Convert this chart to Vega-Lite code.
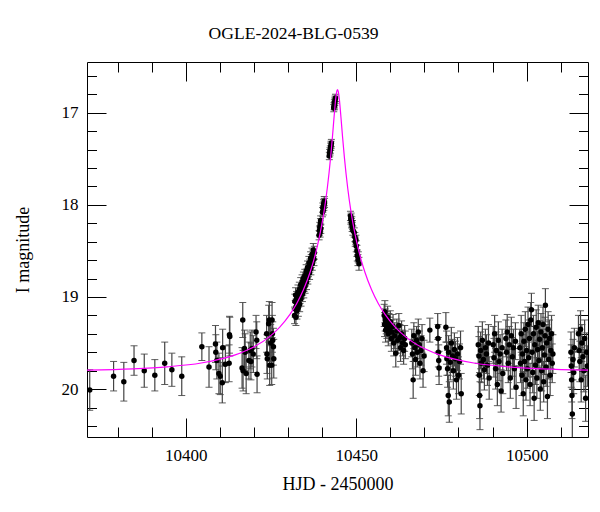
{
  "$schema": "https://vega.github.io/schema/vega-lite/v6.json",
  "width": 501,
  "height": 375,
  "autosize": {"type": "none"},
  "padding": {"left": 87, "top": 62, "right": 12, "bottom": 75},
  "background": "white",
  "config": {
    "view": {"stroke": "black", "strokeWidth": 1},
    "font": "Liberation Serif",
    "axis": {
      "domain": false,
      "grid": false,
      "labelFont": "Liberation Serif",
      "titleFont": "Liberation Serif",
      "labelFontSize": 17,
      "titleFontSize": 18,
      "labelColor": "black",
      "titleColor": "black",
      "tickColor": "black",
      "titleFontWeight": "normal"
    }
  },
  "title": {
    "text": "OGLE-2024-BLG-0539",
    "font": "Liberation Serif",
    "fontSize": 17.6,
    "fontWeight": "normal",
    "color": "black",
    "anchor": "middle",
    "frame": "group",
    "baseline": "alphabetic",
    "dx": -44,
    "offset": 4.5
  },
  "datasets": {
    "obs": [
      {"t": 10371.8, "m": 20.01, "e": 0.22},
      {"t": 10378.8, "m": 19.86, "e": 0.16},
      {"t": 10381.8, "m": 19.92, "e": 0.21},
      {"t": 10384.8, "m": 19.69, "e": 0.16},
      {"t": 10387.8, "m": 19.80, "e": 0.18},
      {"t": 10390.9, "m": 19.85, "e": 0.17},
      {"t": 10393.8, "m": 19.72, "e": 0.23},
      {"t": 10395.9, "m": 19.79, "e": 0.18},
      {"t": 10398.8, "m": 19.86, "e": 0.21},
      {"t": 10404.7, "m": 19.54, "e": 0.15},
      {"t": 10406.8, "m": 19.76, "e": 0.22},
      {"t": 10408.7, "m": 19.51, "e": 0.20},
      {"t": 10408.8, "m": 19.60, "e": 0.19},
      {"t": 10409.1, "m": 19.69, "e": 0.20},
      {"t": 10409.7, "m": 19.83, "e": 0.22},
      {"t": 10410.1, "m": 19.86, "e": 0.20},
      {"t": 10410.7, "m": 19.93, "e": 0.22},
      {"t": 10410.8, "m": 19.55, "e": 0.20},
      {"t": 10411.6, "m": 19.73, "e": 0.20},
      {"t": 10412.7, "m": 19.72, "e": 0.20},
      {"t": 10412.8, "m": 19.41, "e": 0.20},
      {"t": 10412.9, "m": 19.43, "e": 0.21},
      {"t": 10416.5, "m": 19.77, "e": 0.22},
      {"t": 10416.7, "m": 19.25, "e": 0.19},
      {"t": 10416.8, "m": 19.80, "e": 0.22},
      {"t": 10417.2, "m": 19.56, "e": 0.20},
      {"t": 10417.4, "m": 19.60, "e": 0.20},
      {"t": 10417.7, "m": 19.83, "e": 0.22},
      {"t": 10418.5, "m": 19.69, "e": 0.20},
      {"t": 10418.9, "m": 19.58, "e": 0.20},
      {"t": 10419.1, "m": 19.70, "e": 0.20},
      {"t": 10419.4, "m": 19.56, "e": 0.20},
      {"t": 10419.8, "m": 19.62, "e": 0.20},
      {"t": 10420.6, "m": 19.38, "e": 0.18},
      {"t": 10420.8, "m": 19.47, "e": 0.20},
      {"t": 10420.9, "m": 19.84, "e": 0.20},
      {"t": 10423.7, "m": 19.40, "e": 0.20},
      {"t": 10423.8, "m": 19.62, "e": 0.21},
      {"t": 10423.9, "m": 19.67, "e": 0.22},
      {"t": 10424.3, "m": 19.29, "e": 0.20},
      {"t": 10424.5, "m": 19.25, "e": 0.20},
      {"t": 10424.6, "m": 19.74, "e": 0.22},
      {"t": 10424.9, "m": 19.50, "e": 0.20},
      {"t": 10425.2, "m": 19.74, "e": 0.21},
      {"t": 10425.3, "m": 19.25, "e": 0.19},
      {"t": 10425.4, "m": 19.40, "e": 0.20},
      {"t": 10425.5, "m": 19.47, "e": 0.20},
      {"t": 10425.7, "m": 19.54, "e": 0.20},
      {"t": 10425.8, "m": 19.67, "e": 0.21},
      {"t": 10431.9, "m": 19.20, "e": 0.09},
      {"t": 10432.0, "m": 19.05, "e": 0.08},
      {"t": 10432.1, "m": 19.13, "e": 0.09},
      {"t": 10432.2, "m": 18.98, "e": 0.08},
      {"t": 10432.3, "m": 19.22, "e": 0.09},
      {"t": 10432.4, "m": 19.10, "e": 0.08},
      {"t": 10432.5, "m": 19.02, "e": 0.08},
      {"t": 10432.6, "m": 19.15, "e": 0.09},
      {"t": 10432.8, "m": 19.07, "e": 0.08},
      {"t": 10432.9, "m": 18.95, "e": 0.08},
      {"t": 10433.0, "m": 19.12, "e": 0.09},
      {"t": 10433.1, "m": 19.03, "e": 0.08},
      {"t": 10433.3, "m": 18.92, "e": 0.08},
      {"t": 10433.4, "m": 19.08, "e": 0.08},
      {"t": 10433.5, "m": 18.99, "e": 0.08},
      {"t": 10433.7, "m": 18.87, "e": 0.08},
      {"t": 10433.8, "m": 19.02, "e": 0.08},
      {"t": 10433.9, "m": 18.94, "e": 0.08},
      {"t": 10434.1, "m": 18.84, "e": 0.08},
      {"t": 10434.2, "m": 18.97, "e": 0.08},
      {"t": 10434.3, "m": 18.90, "e": 0.08},
      {"t": 10434.5, "m": 18.80, "e": 0.07},
      {"t": 10434.6, "m": 18.93, "e": 0.08},
      {"t": 10434.7, "m": 18.86, "e": 0.08},
      {"t": 10434.9, "m": 18.77, "e": 0.07},
      {"t": 10435.0, "m": 18.88, "e": 0.08},
      {"t": 10435.1, "m": 18.81, "e": 0.07},
      {"t": 10435.3, "m": 18.72, "e": 0.07},
      {"t": 10435.4, "m": 18.84, "e": 0.08},
      {"t": 10435.6, "m": 18.76, "e": 0.07},
      {"t": 10435.7, "m": 18.68, "e": 0.07},
      {"t": 10435.8, "m": 18.79, "e": 0.07},
      {"t": 10436.0, "m": 18.71, "e": 0.07},
      {"t": 10436.1, "m": 18.63, "e": 0.07},
      {"t": 10436.3, "m": 18.74, "e": 0.07},
      {"t": 10436.4, "m": 18.66, "e": 0.07},
      {"t": 10436.6, "m": 18.58, "e": 0.07},
      {"t": 10436.7, "m": 18.69, "e": 0.07},
      {"t": 10436.8, "m": 18.61, "e": 0.07},
      {"t": 10437.0, "m": 18.54, "e": 0.07},
      {"t": 10437.1, "m": 18.64, "e": 0.07},
      {"t": 10437.3, "m": 18.56, "e": 0.07},
      {"t": 10437.4, "m": 18.49, "e": 0.07},
      {"t": 10437.6, "m": 18.59, "e": 0.07},
      {"t": 10437.7, "m": 18.52, "e": 0.07},
      {"t": 10439.1, "m": 18.33, "e": 0.05},
      {"t": 10439.2, "m": 18.28, "e": 0.05},
      {"t": 10439.3, "m": 18.24, "e": 0.05},
      {"t": 10439.4, "m": 18.30, "e": 0.05},
      {"t": 10439.5, "m": 18.20, "e": 0.05},
      {"t": 10439.6, "m": 18.26, "e": 0.05},
      {"t": 10439.55, "m": 18.17, "e": 0.05},
      {"t": 10440.1, "m": 18.08, "e": 0.05},
      {"t": 10440.2, "m": 18.03, "e": 0.05},
      {"t": 10440.3, "m": 18.06, "e": 0.05},
      {"t": 10440.4, "m": 17.99, "e": 0.05},
      {"t": 10440.5, "m": 18.01, "e": 0.05},
      {"t": 10440.6, "m": 17.96, "e": 0.05},
      {"t": 10440.7, "m": 17.98, "e": 0.05},
      {"t": 10442.1, "m": 17.47, "e": 0.04},
      {"t": 10442.2, "m": 17.44, "e": 0.04},
      {"t": 10442.3, "m": 17.42, "e": 0.04},
      {"t": 10442.4, "m": 17.40, "e": 0.04},
      {"t": 10442.5, "m": 17.37, "e": 0.04},
      {"t": 10442.6, "m": 17.35, "e": 0.04},
      {"t": 10442.7, "m": 17.33, "e": 0.04},
      {"t": 10443.4, "m": 16.95, "e": 0.04},
      {"t": 10443.5, "m": 16.93, "e": 0.04},
      {"t": 10443.6, "m": 16.90, "e": 0.04},
      {"t": 10443.65, "m": 16.92, "e": 0.04},
      {"t": 10443.7, "m": 16.88, "e": 0.04},
      {"t": 10443.8, "m": 16.86, "e": 0.04},
      {"t": 10443.9, "m": 16.84, "e": 0.04},
      {"t": 10448.3, "m": 18.12, "e": 0.05},
      {"t": 10448.4, "m": 18.16, "e": 0.05},
      {"t": 10448.5, "m": 18.14, "e": 0.05},
      {"t": 10448.6, "m": 18.20, "e": 0.05},
      {"t": 10448.7, "m": 18.18, "e": 0.05},
      {"t": 10448.8, "m": 18.24, "e": 0.05},
      {"t": 10448.9, "m": 18.22, "e": 0.05},
      {"t": 10449.0, "m": 18.28, "e": 0.05},
      {"t": 10449.4, "m": 18.30, "e": 0.05},
      {"t": 10449.6, "m": 18.35, "e": 0.05},
      {"t": 10449.7, "m": 18.40, "e": 0.05},
      {"t": 10449.9, "m": 18.38, "e": 0.05},
      {"t": 10450.0, "m": 18.45, "e": 0.06},
      {"t": 10450.2, "m": 18.50, "e": 0.06},
      {"t": 10450.3, "m": 18.55, "e": 0.06},
      {"t": 10450.5, "m": 18.60, "e": 0.06},
      {"t": 10450.6, "m": 18.57, "e": 0.06},
      {"t": 10450.8, "m": 18.64, "e": 0.07},
      {"t": 10458.2, "m": 19.20, "e": 0.12},
      {"t": 10458.3, "m": 19.30, "e": 0.13},
      {"t": 10458.4, "m": 19.16, "e": 0.12},
      {"t": 10458.5, "m": 19.25, "e": 0.12},
      {"t": 10458.6, "m": 19.36, "e": 0.13},
      {"t": 10458.8, "m": 19.28, "e": 0.12},
      {"t": 10459.0, "m": 19.33, "e": 0.12},
      {"t": 10459.2, "m": 19.22, "e": 0.12},
      {"t": 10459.4, "m": 19.40, "e": 0.13},
      {"t": 10459.6, "m": 19.30, "e": 0.12},
      {"t": 10459.8, "m": 19.35, "e": 0.13},
      {"t": 10460.0, "m": 19.27, "e": 0.12},
      {"t": 10460.3, "m": 19.45, "e": 0.14},
      {"t": 10460.5, "m": 19.38, "e": 0.13},
      {"t": 10460.8, "m": 19.32, "e": 0.13},
      {"t": 10461.0, "m": 19.50, "e": 0.14},
      {"t": 10461.3, "m": 19.42, "e": 0.14},
      {"t": 10461.6, "m": 19.61, "e": 0.15},
      {"t": 10461.9, "m": 19.37, "e": 0.13},
      {"t": 10462.2, "m": 19.47, "e": 0.14},
      {"t": 10462.5, "m": 19.31, "e": 0.13},
      {"t": 10462.8, "m": 19.44, "e": 0.14},
      {"t": 10463.0, "m": 19.55, "e": 0.15},
      {"t": 10463.3, "m": 19.40, "e": 0.14},
      {"t": 10463.6, "m": 19.50, "e": 0.14},
      {"t": 10463.9, "m": 19.58, "e": 0.15},
      {"t": 10464.2, "m": 19.45, "e": 0.14},
      {"t": 10464.4, "m": 19.52, "e": 0.15},
      {"t": 10466.3, "m": 19.50, "e": 0.15},
      {"t": 10466.5, "m": 19.62, "e": 0.16},
      {"t": 10466.7, "m": 19.90, "e": 0.20},
      {"t": 10466.9, "m": 19.42, "e": 0.14},
      {"t": 10467.2, "m": 19.55, "e": 0.15},
      {"t": 10467.4, "m": 19.68, "e": 0.17},
      {"t": 10467.7, "m": 19.47, "e": 0.15},
      {"t": 10467.9, "m": 19.60, "e": 0.16},
      {"t": 10468.2, "m": 19.38, "e": 0.14},
      {"t": 10468.5, "m": 19.52, "e": 0.15},
      {"t": 10468.7, "m": 19.72, "e": 0.17},
      {"t": 10469.0, "m": 19.58, "e": 0.16},
      {"t": 10469.3, "m": 19.45, "e": 0.15},
      {"t": 10469.6, "m": 19.80, "e": 0.18},
      {"t": 10469.9, "m": 19.64, "e": 0.17},
      {"t": 10471.6, "m": 19.36, "e": 0.13},
      {"t": 10473.9, "m": 19.32, "e": 0.14},
      {"t": 10474.0, "m": 19.45, "e": 0.15},
      {"t": 10474.1, "m": 19.60, "e": 0.16},
      {"t": 10474.2, "m": 19.69, "e": 0.17},
      {"t": 10474.3, "m": 19.77, "e": 0.18},
      {"t": 10476.3, "m": 19.33, "e": 0.16},
      {"t": 10476.5, "m": 19.55, "e": 0.18},
      {"t": 10476.6, "m": 19.67, "e": 0.18},
      {"t": 10476.8, "m": 19.78, "e": 0.20},
      {"t": 10477.0, "m": 20.07, "e": 0.22},
      {"t": 10477.1, "m": 19.60, "e": 0.18},
      {"t": 10477.3, "m": 20.14, "e": 0.22},
      {"t": 10477.6, "m": 19.71, "e": 0.19},
      {"t": 10477.9, "m": 19.50, "e": 0.17},
      {"t": 10478.2, "m": 19.64, "e": 0.18},
      {"t": 10478.5, "m": 19.80, "e": 0.20},
      {"t": 10478.8, "m": 19.57, "e": 0.18},
      {"t": 10479.1, "m": 19.67, "e": 0.19},
      {"t": 10479.4, "m": 19.90, "e": 0.21},
      {"t": 10479.7, "m": 19.62, "e": 0.18},
      {"t": 10480.0, "m": 19.85, "e": 0.20},
      {"t": 10480.3, "m": 19.70, "e": 0.19},
      {"t": 10480.6, "m": 19.55, "e": 0.18},
      {"t": 10480.8, "m": 20.05, "e": 0.22},
      {"t": 10485.8, "m": 19.52, "e": 0.20},
      {"t": 10486.0, "m": 19.64, "e": 0.21},
      {"t": 10486.1, "m": 19.85, "e": 0.22},
      {"t": 10486.2, "m": 20.07, "e": 0.25},
      {"t": 10486.3, "m": 20.18, "e": 0.26},
      {"t": 10486.5, "m": 19.58, "e": 0.20},
      {"t": 10486.7, "m": 19.72, "e": 0.21},
      {"t": 10487.0, "m": 19.47, "e": 0.20},
      {"t": 10487.3, "m": 19.68, "e": 0.21},
      {"t": 10487.6, "m": 19.79, "e": 0.22},
      {"t": 10487.9, "m": 19.55, "e": 0.20},
      {"t": 10488.2, "m": 19.62, "e": 0.21},
      {"t": 10488.5, "m": 19.74, "e": 0.22},
      {"t": 10488.8, "m": 19.50, "e": 0.20},
      {"t": 10489.0, "m": 19.88, "e": 0.23},
      {"t": 10490.2, "m": 19.52, "e": 0.20},
      {"t": 10490.4, "m": 19.66, "e": 0.21},
      {"t": 10490.6, "m": 19.40, "e": 0.20},
      {"t": 10490.9, "m": 19.78, "e": 0.22},
      {"t": 10491.1, "m": 19.58, "e": 0.20},
      {"t": 10491.4, "m": 19.95, "e": 0.23},
      {"t": 10491.7, "m": 19.47, "e": 0.20},
      {"t": 10491.9, "m": 19.70, "e": 0.21},
      {"t": 10492.2, "m": 19.62, "e": 0.21},
      {"t": 10492.5, "m": 20.02, "e": 0.23},
      {"t": 10492.8, "m": 19.55, "e": 0.20},
      {"t": 10493.0, "m": 19.83, "e": 0.22},
      {"t": 10493.9, "m": 19.45, "e": 0.20},
      {"t": 10494.1, "m": 19.60, "e": 0.20},
      {"t": 10494.3, "m": 19.38, "e": 0.19},
      {"t": 10494.6, "m": 19.72, "e": 0.21},
      {"t": 10494.9, "m": 19.52, "e": 0.20},
      {"t": 10495.2, "m": 19.88, "e": 0.22},
      {"t": 10495.5, "m": 19.42, "e": 0.20},
      {"t": 10495.8, "m": 19.65, "e": 0.21},
      {"t": 10496.1, "m": 19.55, "e": 0.20},
      {"t": 10496.4, "m": 19.78, "e": 0.22},
      {"t": 10496.7, "m": 19.48, "e": 0.20},
      {"t": 10496.9, "m": 19.98, "e": 0.23},
      {"t": 10498.0, "m": 19.55, "e": 0.20},
      {"t": 10498.2, "m": 19.72, "e": 0.21},
      {"t": 10498.4, "m": 19.40, "e": 0.20},
      {"t": 10498.6, "m": 19.85, "e": 0.22},
      {"t": 10498.8, "m": 19.62, "e": 0.21},
      {"t": 10499.0, "m": 20.05, "e": 0.24},
      {"t": 10499.2, "m": 19.48, "e": 0.20},
      {"t": 10499.4, "m": 19.70, "e": 0.21},
      {"t": 10499.6, "m": 19.35, "e": 0.19},
      {"t": 10499.8, "m": 19.90, "e": 0.22},
      {"t": 10500.0, "m": 19.58, "e": 0.20},
      {"t": 10500.2, "m": 19.78, "e": 0.21},
      {"t": 10500.4, "m": 19.30, "e": 0.19},
      {"t": 10500.6, "m": 19.66, "e": 0.21},
      {"t": 10500.8, "m": 19.45, "e": 0.20},
      {"t": 10501.0, "m": 19.95, "e": 0.23},
      {"t": 10501.2, "m": 19.25, "e": 0.19},
      {"t": 10501.4, "m": 19.14, "e": 0.18},
      {"t": 10501.6, "m": 19.60, "e": 0.20},
      {"t": 10501.8, "m": 19.82, "e": 0.22},
      {"t": 10502.0, "m": 19.40, "e": 0.20},
      {"t": 10502.2, "m": 20.10, "e": 0.24},
      {"t": 10502.4, "m": 19.52, "e": 0.20},
      {"t": 10502.6, "m": 19.74, "e": 0.21},
      {"t": 10502.8, "m": 19.33, "e": 0.19},
      {"t": 10503.0, "m": 19.88, "e": 0.22},
      {"t": 10503.2, "m": 19.57, "e": 0.20},
      {"t": 10503.4, "m": 19.28, "e": 0.19},
      {"t": 10503.6, "m": 19.69, "e": 0.21},
      {"t": 10503.8, "m": 19.46, "e": 0.20},
      {"t": 10504.0, "m": 20.00, "e": 0.23},
      {"t": 10504.2, "m": 19.38, "e": 0.20},
      {"t": 10504.4, "m": 19.80, "e": 0.22},
      {"t": 10504.6, "m": 19.55, "e": 0.20},
      {"t": 10504.8, "m": 19.30, "e": 0.19},
      {"t": 10505.0, "m": 19.92, "e": 0.22},
      {"t": 10505.2, "m": 19.63, "e": 0.21},
      {"t": 10505.4, "m": 19.42, "e": 0.20},
      {"t": 10505.5, "m": 19.09, "e": 0.18},
      {"t": 10505.7, "m": 19.76, "e": 0.21},
      {"t": 10505.9, "m": 19.50, "e": 0.20},
      {"t": 10506.1, "m": 20.08, "e": 0.24},
      {"t": 10506.3, "m": 19.35, "e": 0.19},
      {"t": 10506.5, "m": 19.68, "e": 0.21},
      {"t": 10506.7, "m": 19.45, "e": 0.20},
      {"t": 10506.9, "m": 19.85, "e": 0.22},
      {"t": 10507.1, "m": 19.58, "e": 0.20},
      {"t": 10507.3, "m": 19.40, "e": 0.20},
      {"t": 10507.5, "m": 19.72, "e": 0.21},
      {"t": 10507.7, "m": 19.62, "e": 0.21},
      {"t": 10513.0, "m": 19.60, "e": 0.22},
      {"t": 10513.1, "m": 19.75, "e": 0.23},
      {"t": 10513.2, "m": 19.90, "e": 0.24},
      {"t": 10513.3, "m": 20.07, "e": 0.25},
      {"t": 10513.4, "m": 20.27, "e": 0.27},
      {"t": 10513.6, "m": 19.68, "e": 0.22},
      {"t": 10513.8, "m": 19.82, "e": 0.23},
      {"t": 10514.0, "m": 19.55, "e": 0.21},
      {"t": 10515.2, "m": 19.40, "e": 0.20},
      {"t": 10515.4, "m": 19.58, "e": 0.21},
      {"t": 10515.6, "m": 19.70, "e": 0.22},
      {"t": 10515.8, "m": 19.35, "e": 0.20},
      {"t": 10516.0, "m": 19.90, "e": 0.24},
      {"t": 10516.2, "m": 19.50, "e": 0.20},
      {"t": 10516.5, "m": 19.65, "e": 0.22},
      {"t": 10516.8, "m": 19.80, "e": 0.23},
      {"t": 10517.0, "m": 19.45, "e": 0.20},
      {"t": 10517.3, "m": 20.10, "e": 0.25},
      {"t": 10517.6, "m": 19.60, "e": 0.21},
      {"t": 10517.8, "m": 19.75, "e": 0.22}
    ],
    "model": [
      {"t": 10371, "m": 19.794},
      {"t": 10384.5, "m": 19.780},
      {"t": 10394.5, "m": 19.758},
      {"t": 10404.5, "m": 19.717},
      {"t": 10414.5, "m": 19.629},
      {"t": 10419.5, "m": 19.552},
      {"t": 10424.5, "m": 19.433},
      {"t": 10427.5, "m": 19.330},
      {"t": 10430.5, "m": 19.192},
      {"t": 10432.5, "m": 19.073},
      {"t": 10434.5, "m": 18.922},
      {"t": 10436.5, "m": 18.726},
      {"t": 10437.5, "m": 18.605},
      {"t": 10438.5, "m": 18.463},
      {"t": 10439.5, "m": 18.292},
      {"t": 10440.5, "m": 18.084},
      {"t": 10441.5, "m": 17.820},
      {"t": 10442, "m": 17.660},
      {"t": 10442.5, "m": 17.477},
      {"t": 10443, "m": 17.269},
      {"t": 10443.5, "m": 17.044},
      {"t": 10443.75, "m": 16.935},
      {"t": 10444, "m": 16.840},
      {"t": 10444.25, "m": 16.774},
      {"t": 10444.5, "m": 16.750},
      {"t": 10444.75, "m": 16.774},
      {"t": 10445, "m": 16.840},
      {"t": 10445.25, "m": 16.935},
      {"t": 10445.5, "m": 17.044},
      {"t": 10446, "m": 17.269},
      {"t": 10446.5, "m": 17.477},
      {"t": 10447, "m": 17.660},
      {"t": 10447.5, "m": 17.820},
      {"t": 10448.5, "m": 18.084},
      {"t": 10449.5, "m": 18.292},
      {"t": 10450.5, "m": 18.463},
      {"t": 10451.5, "m": 18.605},
      {"t": 10452.5, "m": 18.726},
      {"t": 10454.5, "m": 18.922},
      {"t": 10456.5, "m": 19.073},
      {"t": 10458.5, "m": 19.192},
      {"t": 10461.5, "m": 19.330},
      {"t": 10464.5, "m": 19.433},
      {"t": 10469.5, "m": 19.552},
      {"t": 10474.5, "m": 19.629},
      {"t": 10484.5, "m": 19.717},
      {"t": 10494.5, "m": 19.758},
      {"t": 10504.5, "m": 19.780},
      {"t": 10518, "m": 19.794}
    ]
  },
  "data": {"name": "obs"},
  "layer": [
    {
      "mark": {
        "type": "errorbar",
        "clip": true,
        "rule": {"color": "#444444", "strokeWidth": 1.2},
        "ticks": {"color": "#1a1a1a", "size": 7, "thickness": 1}
      },
      "encoding": {
        "x": {
          "field": "t", "type": "quantitative",
          "scale": {"domain": [10371, 10518], "nice": false, "zero": false},
          "axis": {"orient": "bottom", "values": [10400, 10450, 10500], "ticks": false, "labelPadding": 10, "title": "HJD - 2450000", "titlePadding": 12, "format": "d"}
        },
        "y": {
          "field": "m", "type": "quantitative",
          "scale": {"domain": [16.45, 20.52], "reverse": true, "nice": false, "zero": false},
          "axis": {"orient": "left", "values": [17, 18, 19, 20], "ticks": false, "labelPadding": 9, "title": "I magnitude", "titlePadding": 29, "format": "d"}
        },
        "yError": {"field": "e"}
      }
    },
    {
      "mark": {"type": "circle", "size": 30, "color": "black", "opacity": 1, "clip": true},
      "encoding": {
        "x": {
          "field": "t", "type": "quantitative",
          "scale": {"domain": [10371, 10518], "nice": false, "zero": false},
          "axis": {"orient": "bottom", "labels": false, "title": null,
            "values": [10380, 10390, 10400, 10410, 10420, 10430, 10440, 10450, 10460, 10470, 10480, 10490, 10500, 10510],
            "tickSize": {"condition": {"test": "datum.value % 50 === 0", "value": -19}, "value": -10}}
        },
        "y": {
          "field": "m", "type": "quantitative",
          "scale": {"domain": [16.45, 20.52], "reverse": true, "nice": false, "zero": false},
          "axis": {"orient": "left", "labels": false, "title": null,
            "values": [16.6, 16.8, 17, 17.2, 17.4, 17.6, 17.8, 18, 18.2, 18.4, 18.6, 18.8, 19, 19.2, 19.4, 19.6, 19.8, 20, 20.2, 20.4],
            "tickSize": {"condition": {"test": "abs(datum.value - round(datum.value)) < 0.001", "value": -19}, "value": -9.5}}
        }
      }
    },
    {
      "data": {"name": "model"},
      "mark": {"type": "line", "color": "#ff00ff", "strokeWidth": 1.2, "interpolate": "monotone", "clip": true},
      "encoding": {
        "x": {
          "field": "t", "type": "quantitative",
          "scale": {"domain": [10371, 10518], "nice": false, "zero": false},
          "axis": {"orient": "top", "labels": false, "title": null,
            "values": [10380, 10390, 10400, 10410, 10420, 10430, 10440, 10450, 10460, 10470, 10480, 10490, 10500, 10510],
            "tickSize": {"condition": {"test": "datum.value % 50 === 0", "value": -19}, "value": -10}}
        },
        "y": {
          "field": "m", "type": "quantitative",
          "scale": {"domain": [16.45, 20.52], "reverse": true, "nice": false, "zero": false},
          "axis": {"orient": "right", "labels": false, "title": null,
            "values": [16.6, 16.8, 17, 17.2, 17.4, 17.6, 17.8, 18, 18.2, 18.4, 18.6, 18.8, 19, 19.2, 19.4, 19.6, 19.8, 20, 20.2, 20.4],
            "tickSize": {"condition": {"test": "abs(datum.value - round(datum.value)) < 0.001", "value": -19}, "value": -9.5}}
        }
      }
    }
  ],
  "resolve": {"axis": {"x": "independent", "y": "independent"}}
}
